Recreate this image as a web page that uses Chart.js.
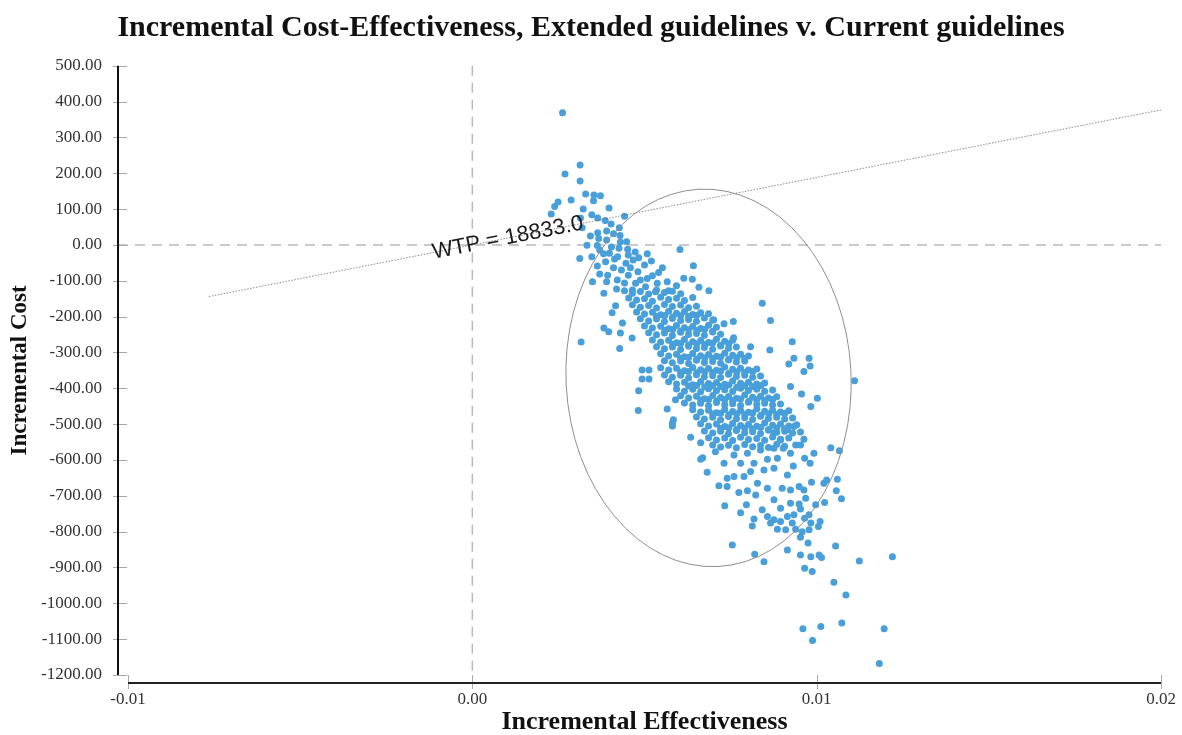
<!DOCTYPE html>
<html>
<head>
<meta charset="utf-8">
<title>Incremental Cost-Effectiveness</title>
<script src="https://cdn.jsdelivr.net/npm/chart.js@4.4.1/dist/chart.umd.min.js"></script>
<style>
  html, body { margin: 0; padding: 0; background: #ffffff; }
  canvas { display: block; }
</style>
</head>
<body>
<canvas id="cea" width="1182" height="735"></canvas>
<script>
// Bootstrap replicates: incremental effectiveness (QALY) and incremental cost per replicate.
const incrementalEffect = [
  0.00262,0.00313,0.00269,0.00313,0.00329,0.00353,0.00372,0.00352,0.00287,0.00249,
  0.00239,0.00229,0.00322,0.00397,0.00347,0.00364,0.00386,0.00442,0.00314,0.00319,
  0.00403,0.00427,0.00364,0.00390,0.00367,0.00429,0.00333,0.00363,0.00448,0.00603,
  0.00370,0.00398,0.00426,0.00451,0.00473,0.00508,0.00312,0.00347,0.00387,0.00422,
  0.00446,0.00467,0.00520,0.00642,0.00363,0.00433,0.00481,0.00541,0.00370,0.00393,
  0.00453,0.00508,0.00614,0.00639,0.00349,0.00421,0.00474,0.00537,0.00566,0.00658,
  0.00343,0.00390,0.00410,0.00404,0.00430,0.00381,0.00413,0.00483,0.00459,0.00410,
  0.00500,0.00390,0.00442,0.00503,0.00419,0.00465,0.00523,0.00570,0.00453,0.00488,
  0.00532,0.00593,0.00552,
  0.00382,0.00406,0.00416,0.00316,0.00382,0.00396,0.00428,0.00430,0.00464,0.00483,
  0.00482,0.00493,0.00513,0.00493,0.00513,0.00566,0.00581,0.00842,0.00866,0.00687,
  0.00758,0.00731,0.00701,0.00808,0.00864,0.00929,0.00934,0.00978,0.00981,0.00919,
  0.00963,0.00924,0.01110,0.00983,0.01002,0.00956,0.00953,0.00590,0.00584,0.00669,
  0.00759,0.00436,
  0.00581,0.00634,0.00663,0.00663,0.00682,0.00716,0.00740,0.00733,0.00774,0.00799,
  0.00779,0.00796,0.00818,0.00813,0.00823,0.00755,0.00820,0.00847,0.00915,0.00953,
  0.00983,0.01007,0.01014,0.00965,0.00987,0.00953,0.00975,0.00958,0.00978,0.01005,
  0.01010,0.00997,0.01023,0.01055,0.01050,0.01085,0.01124,0.01220,0.00960,0.01012,
  0.01073,0.01196,0.00988,0.01182,0.01041,0.01066,0.01060,0.01057,0.01072,0.01021,
  0.01029,0.00985,0.00992,0.00981,0.00965,0.00963,0.00939,0.00924,0.00903,0.00886,
  0.00857,0.00932,0.00915,0.00876,0.00900,0.00924,0.00949,0.00963,0.00968,0.00949,
  0.00924,0.00953,0.00978,0.00965,0.00983,0.00895,0.00876,0.00857,0.00842,0.00857,
  0.00876,0.00895,0.00915,0.00934,0.00886,0.00910,0.00939,0.00929,0.00866,0.00706,
  0.00731,0.00760,0.00779,0.00799,0.00818,0.00837,0.00847,0.00808,0.00789,0.00760,
  0.00740,0.00828,0.00876,0.00895,0.00876,0.00915,0.00934,0.00953,
  0.00442,0.00465,0.00488,0.00512,0.00535,0.00558,0.00581,0.00605,
  0.00454,0.00477,0.00500,0.00523,0.00547,0.00570,0.00593,0.00616,0.00640,
  0.00465,0.00488,0.00512,0.00535,0.00558,0.00581,0.00605,0.00628,0.00651,
  0.00477,0.00500,0.00523,0.00547,0.00570,0.00593,0.00616,0.00640,0.00663,0.00686,
  0.00488,0.00512,0.00535,0.00558,0.00581,0.00605,0.00628,0.00651,0.00674,0.00698,
  0.00500,0.00523,0.00547,0.00570,0.00593,0.00616,0.00640,0.00663,0.00686,0.00709,
  0.00512,0.00535,0.00558,0.00581,0.00605,0.00628,0.00651,0.00674,0.00698,0.00721,
  0.00523,0.00547,0.00570,0.00593,0.00616,0.00640,0.00663,0.00686,0.00709,0.00733,0.00756,
  0.00535,0.00558,0.00581,0.00605,0.00628,0.00651,0.00674,0.00698,0.00721,0.00744,0.00767,
  0.00547,0.00570,0.00593,0.00616,0.00640,0.00663,0.00686,0.00709,0.00733,0.00756,0.00779,0.00802,
  0.00558,0.00581,0.00605,0.00628,0.00651,0.00674,0.00698,0.00721,0.00744,0.00767,0.00791,
  0.00547,0.00570,0.00593,0.00616,0.00640,0.00663,0.00686,0.00709,0.00733,0.00756,0.00779,0.00802,0.00826,
  0.00558,0.00581,0.00605,0.00628,0.00651,0.00674,0.00698,0.00721,0.00744,0.00767,0.00791,0.00814,0.00837,
  0.00570,0.00593,0.00616,0.00640,0.00663,0.00686,0.00709,0.00733,0.00756,0.00779,0.00802,0.00826,0.00849,
  0.00593,0.00616,0.00640,0.00663,0.00686,0.00709,0.00733,0.00756,0.00779,0.00802,0.00826,0.00849,0.00872,
  0.00605,0.00628,0.00651,0.00674,0.00698,0.00721,0.00744,0.00767,0.00791,0.00814,0.00837,0.00860,0.00884,
  0.00616,0.00640,0.00663,0.00686,0.00709,0.00733,0.00756,0.00779,0.00802,0.00826,0.00849,0.00872,0.00895,
  0.00640,0.00663,0.00686,0.00709,0.00733,0.00756,0.00779,0.00802,0.00826,0.00849,0.00872,0.00895,0.00919,
  0.00651,0.00674,0.00698,0.00721,0.00744,0.00767,0.00791,0.00814,0.00837,0.00860,0.00884,0.00907,0.00930,
  0.00663,0.00686,0.00709,0.00733,0.00756,0.00779,0.00802,0.00826,0.00849,0.00872,0.00895,0.00919,0.00942,
  0.00674,0.00698,0.00721,0.00744,0.00767,0.00791,0.00814,0.00837,0.00860,0.00884,0.00907,0.00930,
  0.00686,0.00709,0.00733,0.00756,0.00779,0.00802,0.00826,0.00849,0.00872,0.00895,0.00919,
  0.00698,0.00721,0.00744,0.00767,0.00791,0.00814,0.00837,0.00860,0.00884,0.00907,
  0.00535,0.00559,0.00582,0.00605,0.00628,0.00652,
  0.00559,0.00582,0.00605,0.00628,0.00652,0.00675,0.00698,
  0.00582,0.00605,0.00628,0.00652,0.00675,0.00698,0.00721,0.00745,
  0.00605,0.00628,0.00652,0.00675,0.00698,0.00721,0.00745,0.00768,0.00791,
  0.00605,0.00628,0.00652,0.00675,0.00698,0.00721,0.00745,0.00768,0.00791,0.00814,
  0.00628,0.00652,0.00675,0.00698,0.00721,0.00745,0.00768,0.00791,0.00814,0.00838,
  0.00663,0.00686,0.00710,0.00733,0.00756,0.00779,0.00803,0.00826,0.00849,0.00872,
  0.00698,0.00721,0.00745,0.00768,0.00791,0.00814,0.00838,0.00861,0.00884,0.00907,
  0.00721,0.00745,0.00768,0.00791,0.00814,0.00838,0.00861,0.00884,0.00907
];

const incrementalCost = [
  369,223,198,178,142,139,137,123,125,120,
  107,86,100,103,84,75,68,80,75,48,
  58,48,34,39,18,26,-1,-2,9,-13,
  -14,-23,-9,-12,-20,-25,-38,-33,-47,-33,
  -51,-42,-45,-58,-59,-70,-75,-77,-81,-85,
  -85,-94,-93,-96,-103,-98,-107,-107,-103,-118,
  25,14,31,-6,8,-25,-39,-36,-64,-64,
  -56,-103,-106,-117,-123,-126,-86,-128,-28,-98,
  -131,-114,-64,
  -135,-189,-170,-271,-232,-242,-289,-246,-260,-407,
  -462,-349,-349,-374,-374,-458,-497,-163,-211,-128,
  -214,-220,-209,-284,-293,-270,-316,-316,-338,-332,
  -353,-395,-379,-451,-428,-416,-522,-432,-488,-594,
  -259,-218,
  -505,-537,-552,-598,-634,-672,-674,-728,-691,-686,
  -747,-725,-765,-784,-698,-837,-863,-884,-851,-865,
  -870,-865,-872,-902,-911,-816,-832,-800,-795,-786,
  -772,-725,-719,-840,-941,-977,-882,-870,-1071,-1065,
  -1055,-1071,-1104,-1168,-566,-574,-654,-686,-708,-665,
  -656,-662,-581,-609,-595,-542,-558,-581,-567,-595,
  -598,-617,-642,-623,-679,-684,-674,-684,-707,-723,
  -721,-737,-753,-763,-776,-735,-711,-679,-739,-758,
  -767,-772,-758,-753,-793,-795,-793,-776,-776,-577,
  -609,-586,-609,-581,-609,-572,-628,-632,-646,-646,
  -651,-665,-567,-544,-525,-516,-507,-558,
  -128,-135,-130,-137,-126,-133,-129,-136,
  -148,-154,-150,-157,-146,-152,-149,-155,-147,
  -167,-174,-169,-176,-166,-172,-168,-175,-171,
  -187,-193,-188,-195,-185,-191,-186,-194,-189,-192,
  -206,-212,-207,-214,-205,-211,-208,-213,-204,-210,
  -226,-232,-227,-234,-225,-231,-228,-233,-224,-230,
  -245,-251,-246,-253,-244,-250,-247,-252,-243,-249,
  -265,-271,-266,-273,-264,-270,-267,-272,-263,-269,-266,
  -284,-290,-285,-292,-283,-289,-286,-291,-282,-288,-285,
  -304,-310,-305,-312,-303,-309,-306,-311,-302,-308,-305,-310,
  -323,-329,-324,-331,-322,-328,-325,-330,-321,-327,-324,
  -343,-349,-344,-351,-342,-348,-345,-350,-341,-347,-344,-349,-346,
  -363,-369,-364,-371,-362,-368,-365,-370,-361,-367,-364,-369,-366,
  -382,-388,-383,-390,-381,-387,-384,-389,-380,-386,-383,-388,-385,
  -402,-408,-403,-410,-401,-407,-404,-409,-400,-406,-403,-408,-405,
  -421,-427,-422,-429,-420,-426,-423,-428,-419,-425,-422,-427,-424,
  -441,-447,-442,-449,-440,-446,-443,-448,-439,-445,-442,-447,-444,
  -460,-466,-461,-468,-459,-465,-462,-467,-458,-464,-461,-466,-463,
  -480,-486,-481,-488,-479,-485,-482,-487,-478,-484,-481,-486,-483,
  -499,-505,-500,-507,-498,-504,-501,-506,-497,-503,-500,-505,-502,
  -519,-525,-520,-527,-518,-524,-521,-526,-517,-523,-520,-525,
  -538,-544,-539,-546,-537,-543,-540,-545,-536,-542,-539,
  -558,-564,-559,-566,-557,-563,-560,-565,-556,-562,
  -199,-197,-201,-198,-200,-196,
  -238,-236,-240,-237,-239,-235,-241,
  -277,-275,-279,-276,-278,-274,-280,-276,
  -316,-314,-318,-315,-317,-313,-319,-315,-317,
  -355,-353,-357,-354,-356,-352,-358,-354,-356,-353,
  -394,-392,-396,-393,-395,-391,-397,-393,-395,-392,
  -433,-431,-435,-432,-434,-430,-436,-432,-434,-431,
  -472,-470,-474,-471,-473,-469,-475,-471,-473,-470,
  -512,-510,-514,-511,-513,-509,-515,-511,-513
];

// Axis ticks
const effectTicks = [-0.01, 0.00, 0.01, 0.02];
const costTicks = [500, 400, 300, 200, 100, 0, -100, -200, -300, -400, -500,
                   -600, -700, -800, -900, -1000, -1100, -1200];

// Willingness-to-pay threshold line and its label
const wtpThreshold = 18833.0;
const wtpLineEffect = [-0.00765, 0.02];
const wtpLabelEffect = 0.00103;

// 95% confidence ellipse of the replicates
const ellipseCentre = [0.00686, -371];
const ellipseSemiAxes = [0.00414, 527];
const ellipseTilt = -0.05;

const SERIF = "'Liberation Serif', 'Times New Roman', serif";
const SANS = "'Liberation Sans', Arial, sans-serif";

const replicates = incrementalEffect.map((e, i) => ({ x: e, y: incrementalCost[i] }));

const planeDecor = {
  id: 'planeDecor',
  beforeDatasetsDraw(chart) {
    const { ctx, chartArea: a, scales: { x, y } } = chart;
    const x0 = x.getPixelForValue(0);
    const y0 = y.getPixelForValue(0);
    ctx.save();
    ctx.strokeStyle = '#b9b9b9';
    ctx.lineWidth = 1.5;
    ctx.setLineDash([10, 7]);
    ctx.beginPath();
    ctx.moveTo(x0, a.top);
    ctx.lineTo(x0, a.bottom);
    ctx.stroke();
    ctx.beginPath();
    ctx.moveTo(a.left - 10, y0);
    ctx.lineTo(a.right, y0);
    ctx.stroke();
    ctx.restore();
  },
  afterDatasetsDraw(chart) {
    const { ctx, scales: { x, y } } = chart;
    ctx.save();
    // confidence ellipse
    const cx = x.getPixelForValue(ellipseCentre[0]);
    const cy = y.getPixelForValue(ellipseCentre[1]);
    const rx = Math.abs(x.getPixelForValue(ellipseCentre[0] + ellipseSemiAxes[0]) - cx);
    const ry = Math.abs(y.getPixelForValue(ellipseCentre[1] + ellipseSemiAxes[1]) - cy);
    ctx.strokeStyle = '#8e8e8e';
    ctx.lineWidth = 1;
    ctx.beginPath();
    ctx.ellipse(cx, cy, rx, ry, ellipseTilt, 0, Math.PI * 2);
    ctx.stroke();

    // WTP threshold line
    const x1 = x.getPixelForValue(wtpLineEffect[0]);
    const y1 = y.getPixelForValue(wtpThreshold * wtpLineEffect[0]);
    const x2 = x.getPixelForValue(wtpLineEffect[1]);
    const y2 = y.getPixelForValue(wtpThreshold * wtpLineEffect[1]);
    ctx.strokeStyle = '#6f6f6f';
    ctx.lineWidth = 0.8;
    ctx.setLineDash([1.5, 1.5]);
    ctx.beginPath();
    ctx.moveTo(x1, y1);
    ctx.lineTo(x2, y2);
    ctx.stroke();
    ctx.setLineDash([]);

    // WTP label, running along the line
    const lx = x.getPixelForValue(wtpLabelEffect);
    const ly = y.getPixelForValue(wtpThreshold * wtpLabelEffect);
    ctx.translate(lx, ly);
    ctx.rotate(Math.atan2(y2 - y1, x2 - x1));
    ctx.font = '22px ' + SANS;
    ctx.fillStyle = '#1a1a1a';
    ctx.textAlign = 'center';
    ctx.textBaseline = 'middle';
    ctx.fillText('WTP = ' + wtpThreshold.toFixed(1), 0, 0);
    ctx.restore();
  },
  afterDraw(chart) {
    const { ctx, chartArea: a, scales: { x, y } } = chart;
    ctx.save();
    // tick marks
    ctx.strokeStyle = '#a8a8a8';
    ctx.lineWidth = 1;
    costTicks.forEach(v => {
      const py = Math.round(y.getPixelForValue(v)) + 0.5;
      ctx.beginPath();
      ctx.moveTo(a.left - 15, py);
      ctx.lineTo(a.left - 1, py);
      ctx.stroke();
    });
    effectTicks.forEach(v => {
      const px = Math.round(x.getPixelForValue(v)) + 0.5;
      ctx.beginPath();
      ctx.moveTo(px, a.bottom);
      ctx.lineTo(px, a.bottom + 14);
      ctx.stroke();
    });
    // axis lines
    ctx.strokeStyle = '#111111';
    ctx.lineWidth = 2;
    ctx.beginPath();
    ctx.moveTo(a.left - 10, a.top);
    ctx.lineTo(a.left - 10, a.bottom);
    ctx.stroke();
    ctx.strokeStyle = '#222222';
    ctx.beginPath();
    ctx.moveTo(a.left, a.bottom + 8);
    ctx.lineTo(a.right, a.bottom + 8);
    ctx.stroke();
    ctx.restore();
  }
};

new Chart(document.getElementById('cea'), {
  type: 'scatter',
  data: {
    datasets: [{
      data: replicates,
      backgroundColor: '#489fda',
      borderWidth: 0,
      pointRadius: 3.5,
      pointHoverRadius: 3.5
    }]
  },
  options: {
    responsive: false,
    animation: false,
    devicePixelRatio: 1,
    events: [],
    layout: { padding: { top: 0, right: 0, bottom: 0, left: 0 } },
    plugins: {
      legend: { display: false },
      tooltip: { enabled: false },
      title: {
        display: true,
        text: 'Incremental Cost-Effectiveness, Extended guidelines v. Current guidelines',
        color: '#111111',
        font: { family: SERIF, size: 30, weight: 'bold', lineHeight: 1.2 },
        padding: { top: 10, bottom: 19.7 }
      }
    },
    scales: {
      x: {
        type: 'linear',
        min: effectTicks[0],
        max: effectTicks[effectTicks.length - 1],
        grid: { display: false, drawTicks: false },
        border: { display: false },
        afterBuildTicks: s => { s.ticks = effectTicks.map(v => ({ value: v })); },
        ticks: {
          padding: 14,
          color: '#333333',
          font: { family: SERIF, size: 17 },
          maxRotation: 0,
          autoSkip: false,
          callback: v => Number(v).toFixed(2)
        },
        title: {
          display: true,
          text: 'Incremental Effectiveness',
          color: '#111111',
          font: { family: SERIF, size: 26, weight: 'bold', lineHeight: 1 },
          padding: { top: 0, bottom: 0 }
        },
        // room on the right for the last tick label
        afterFit: s => { s.height = 60; s.paddingLeft = 0; s.paddingRight = 21; }
      },
      y: {
        type: 'linear',
        min: costTicks[costTicks.length - 1],
        max: costTicks[0],
        grid: { display: false, drawTicks: false },
        border: { display: false },
        afterBuildTicks: s => { s.ticks = costTicks.slice().reverse().map(v => ({ value: v })); },
        ticks: {
          padding: 26,
          color: '#333333',
          font: { family: SERIF, size: 17 },
          autoSkip: false,
          callback: v => Number(v).toFixed(2)
        },
        title: {
          display: true,
          text: 'Incremental Cost',
          color: '#111111',
          font: { family: SERIF, size: 23, weight: 'bold' },
          padding: { top: 6, bottom: 0 }
        },
        afterFit: s => { s.width = 128; }
      }
    }
  },
  plugins: [planeDecor]
});
</script>
</body>
</html>
